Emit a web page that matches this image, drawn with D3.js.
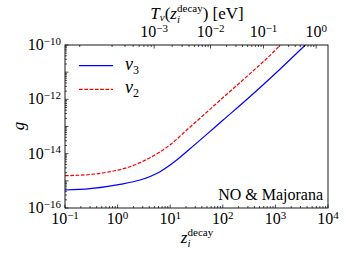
<!DOCTYPE html>
<html><head><meta charset="utf-8">
<script src="https://cdn.jsdelivr.net/npm/d3@7"></script>
<style>
body{margin:0;background:#fff;}
</style></head>
<body><svg id="c" width="346" height="259"></svg>
<script>
// ---- data ----
const zNu3 = [0.1, 0.3, 1.11, 2.67, 6.4, 13.3, 23.8, 50, 100, 300, 1000, 2000, 3700];
const gNu3 = [4.6e-16, 5.18e-16, 7.45e-16, 1.07e-15, 2.17e-15, 5.85e-15, 1.51e-14, 5.25e-14, 1.69e-13, 1.07e-12, 8.91e-12, 3.18e-11, 1.0e-10];
const zNu2 = [0.1, 0.3, 0.72, 1.72, 4.13, 9.9, 20.6, 50, 100, 300, 1000, 1230];
const gNu2 = [1.55e-15, 1.71e-15, 2.17e-15, 3.31e-15, 7.10e-15, 2.08e-14, 7.43e-14, 3.41e-13, 1.14e-12, 7.53e-12, 6.53e-11, 1.0e-10];
const seriesNames = ["ν3", "ν2"];
const xTickExps = [-1, 0, 1, 2, 3, 4];
const yTickExps = [-16, -14, -12, -10];
const topTickExps = [-3, -2, -1, 0];
const T0 = 1.68e-4; // eV, T_nu today
const annotation = "NO & Majorana";

// ---- layout ----
const FONT = '"Liberation Serif"';
const W = 346, H = 259;
const m = {l: 65, r: 18, t: 45, b: 51};
const iw = W - m.l - m.r, ih = H - m.t - m.b;
const svg = d3.select("#c");
const g = svg.append("g").attr("transform", `translate(${m.l},${m.t})`);
const x = d3.scaleLog().domain([0.1, 1e4]).range([0, iw]);
const y = d3.scaleLog().domain([1e-16, 1e-10]).range([ih, 0]);
const zOfT = T => T / T0 - 1;

function txt(parent) {
  return parent.append("text").style("font-family", FONT).style("fill", "#000");
}
function powLabel(sel, base, exp, fs, sfs) {
  sel.append("tspan").text(base).style("font-size", fs + "px");
  sel.append("tspan").text((exp < 0 ? "\u2212" : "") + Math.abs(exp))
    .attr("dy", -5.5).style("font-size", sfs + "px");
}

// clip
svg.append("defs").append("clipPath").attr("id", "clip")
  .append("rect").attr("width", iw).attr("height", ih);

// curves
const line = d3.line().x(d => x(d[0])).y(d => y(d[1])).curve(d3.curveMonotoneX);
const pl = g.append("g").attr("clip-path", "url(#clip)");
pl.append("path").datum(zNu2.map((z, i) => [z, gNu2[i]]))
  .attr("d", line).attr("fill", "none").attr("stroke", "#ff0000")
  .attr("stroke-width", 1.2).attr("stroke-dasharray", "3.7,1.6");
pl.append("path").datum(zNu3.map((z, i) => [z, gNu3[i]]))
  .attr("d", line).attr("fill", "none").attr("stroke", "#0000ff")
  .attr("stroke-width", 1.2);

// ticks
const tk = g.append("g").attr("stroke", "#000").attr("stroke-width", 0.7);
function minorList(lo, hi) {
  const out = [];
  for (let e = lo; e < hi; e++) for (let k = 2; k <= 9; k++) out.push(k * Math.pow(10, e));
  return out;
}
xTickExps.forEach(e => {
  const px = x(Math.pow(10, e));
  tk.append("line").attr("x1", px).attr("x2", px).attr("y1", ih).attr("y2", ih - 3.5);
});
minorList(-1, 4).forEach(v => {
  const px = x(v);
  tk.append("line").attr("x1", px).attr("x2", px).attr("y1", ih).attr("y2", ih - 2);
});
for (let e = -16; e <= -10; e++) {
  const py = y(Math.pow(10, e));
  tk.append("line").attr("x1", 0).attr("x2", 3.5).attr("y1", py).attr("y2", py);
}
minorList(-16, -10).forEach(v => {
  const py = y(v);
  tk.append("line").attr("x1", 0).attr("x2", 2).attr("y1", py).attr("y2", py);
});
topTickExps.forEach(e => {
  const px = x(zOfT(Math.pow(10, e)));
  tk.append("line").attr("x1", px).attr("x2", px).attr("y1", 0).attr("y2", 3.5);
});
minorList(-4, 0).forEach(v => {
  const z = zOfT(v);
  if (z < 0.1 || z > 1e4) return;
  const px = x(z);
  tk.append("line").attr("x1", px).attr("x2", px).attr("y1", 0).attr("y2", 2);
});

// frame
g.append("rect").attr("width", iw).attr("height", ih).attr("fill", "none")
  .attr("stroke", "#000").attr("stroke-width", 0.9);

// tick labels
xTickExps.forEach(e => {
  const t = txt(g).attr("x", x(Math.pow(10, e))).attr("y", ih + 16).attr("text-anchor", "middle");
  powLabel(t, "10", e, 16, 11);
});
yTickExps.forEach(e => {
  const t = txt(g).attr("x", -4).attr("y", y(Math.pow(10, e)) + 5).attr("text-anchor", "end");
  powLabel(t, "10", e, 16, 11);
});
topTickExps.forEach(e => {
  const t = txt(g).attr("x", x(zOfT(Math.pow(10, e)))).attr("y", -8).attr("text-anchor", "middle");
  powLabel(t, "10", e, 16, 11);
});

// z_i^decay helper
function zSym(t) {
  t.append("tspan").text("z").style("font-style", "italic").style("font-size", "17px");
  t.append("tspan").text("i").style("font-style", "italic").style("font-size", "11px").attr("dy", 4);
  t.append("tspan").text("decay").style("font-size", "11px").attr("dx", -3).attr("dy", -11);
}
const xl = txt(svg).attr("x", 197).attr("y", 243).attr("text-anchor", "middle");
zSym(xl);

const tl = txt(svg).attr("x", 197).attr("y", 19).attr("text-anchor", "middle");
tl.append("tspan").text("T").style("font-style", "italic").style("font-size", "17px");
tl.append("tspan").text("ν").style("font-style", "italic").style("font-size", "11px").attr("dy", 2);
tl.append("tspan").text("(").style("font-size", "17px").attr("dy", -2);
zSym(tl);
tl.append("tspan").text(") [eV]").style("font-size", "17px").attr("dy", 7);

txt(svg).attr("transform", "translate(24,126) rotate(-90)")
  .attr("text-anchor", "middle").style("font-style", "italic").style("font-size", "17px").text("g");

// legend
const lg = g.append("g");
const legendItems = [{name: seriesNames[0], color: "#0000ff", dash: null},
                     {name: seriesNames[1], color: "#ff0000", dash: "3.7,1.6"}];
legendItems.forEach((it, i) => {
  const yy = 20.7 + i * 23.6;
  lg.append("line").attr("x1", 14).attr("x2", 48).attr("y1", yy).attr("y2", yy)
    .attr("stroke", it.color).attr("stroke-width", 1.2)
    .attr("stroke-dasharray", it.dash);
  const t = txt(lg).attr("x", 60).attr("y", yy + 4);
  t.append("tspan").text(it.name[0]).style("font-style", "italic").style("font-size", "18px");
  t.append("tspan").text(it.name.slice(1)).style("font-size", "12px").attr("dy", 4);
});

// annotation
txt(g).attr("x", iw - 5).attr("y", ih - 8).attr("text-anchor", "end")
  .style("font-size", "16px").text(annotation);
</script></body></html>
